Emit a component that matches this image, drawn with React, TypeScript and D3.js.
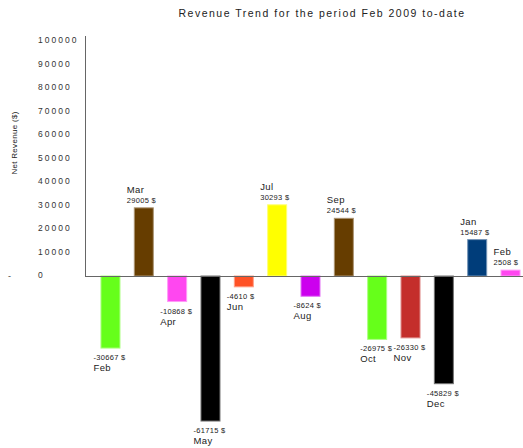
import { useEffect } from "react";
import * as d3 from "d3";

const months = ["Feb", "Mar", "Apr", "May", "Jun", "Jul", "Aug", "Sep", "Oct", "Nov", "Dec", "Jan", "Feb"];
const revenue = [-30667, 29005, -10868, -61715, -4610, 30293, -8624, 24544, -26975, -26330, -45829, 15487, 2508];
const barColors = ["#66ff1a", "#663d00", "#ff47f0", "#000000", "#ff5226", "#ffff00", "#cc00ee", "#663d00", "#66ff1a", "#c42e2b", "#000000", "#003d7a", "#ff47f0"];
const yTicks = [0, 10000, 20000, 30000, 40000, 50000, 60000, 70000, 80000, 90000, 100000];

const W = 523;
const H = 448;
const font = "'Liberation Sans', Arial, sans-serif";

export default function App() {
  useEffect(() => {
    document.body.style.margin = "0";
  }, []);

  const y = d3.scaleLinear().domain([0, 100000]).range([276, 41]);
  const x = d3
    .scaleBand<number>()
    .domain(months.map((_, i) => i))
    .range([93.8, 527.2])
    .paddingInner(0.43)
    .paddingOuter(0.215);

  return (
    <svg width={W} height={H} style={{ position: "absolute", left: 0, top: 0, background: "#fff" }}>
      <text x={322} y={17} textAnchor="middle" fontFamily={font} fontSize={10.5} letterSpacing={1.5} fill="#222">
        Revenue Trend for the period Feb 2009 to-date
      </text>

      <text
        transform={`translate(17,143) rotate(-90)`}
        textAnchor="middle"
        fontFamily={font}
        fontSize={8}
        letterSpacing={0.3}
        fill="#222"
      >
        Net Revenue ($)
      </text>
      <text x={8} y={279} fontFamily={font} fontSize={9} fill="#444">-</text>

      {yTicks.map((t) => (
        <text key={t} x={38} y={y(t) + 2} fontFamily={font} fontSize={8.5} letterSpacing={2} fill="#333">
          {t}
        </text>
      ))}

      {revenue.map((v, i) => {
        const bx = x(i)!;
        const bw = x.bandwidth();
        const top = v >= 0 ? y(v) : y(0);
        const h = Math.abs(y(v) - y(0));
        const c = barColors[i];
        const edge = d3.interpolateRgb(c, "#ffffff")(0.45);
        const cx = bx + bw / 2;
        const valueY = v >= 0 ? y(v) - 5 : y(v) + 12;
        const monthY = v >= 0 ? y(v) - 15 : y(v) + 23;
        const labelX = cx - 17;
        return (
          <g key={i}>
            <rect x={bx} y={top} width={bw} height={h} fill={c} stroke={edge} strokeWidth={1} />
            <text x={labelX} y={valueY} fontFamily={font} fontSize={7.5} letterSpacing={0.3} fill="#222">
              {`${v} $`}
            </text>
            <text x={labelX} y={monthY} fontFamily={font} fontSize={9.5} letterSpacing={0.4} fill="#222">
              {months[i]}
            </text>
          </g>
        );
      })}

      <line x1={85.5} x2={85.5} y1={36} y2={276} stroke="#666" strokeWidth={1} />
      <line x1={85} x2={523} y1={276.5} y2={276.5} stroke="#666" strokeWidth={1} />
    </svg>
  );
}
